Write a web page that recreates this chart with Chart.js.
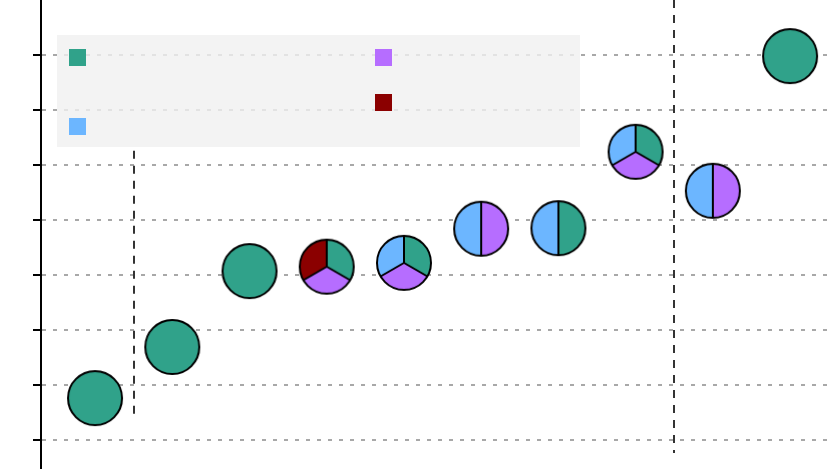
<!DOCTYPE html>
<html>
<head>
<meta charset="utf-8">
<script src="https://cdn.jsdelivr.net/npm/chart.js@4"></script>
<style>
  html, body { margin: 0; padding: 0; background: #fff; }
  #wrap { width: 831px; height: 469px; }
</style>
</head>
<body>
<div id="wrap"><canvas id="chart" width="831" height="469"></canvas></div>
<script>
// positions along x and the marker heights
const positions = [0, 1, 2, 3, 4, 5, 6, 7, 8, 9];
const values = [0.76, 1.69, 3.07, 3.15, 3.22, 3.84, 3.85, 5.24, 4.53, 6.98];

// which series each marker is made of (slices, clockwise from 12 o'clock)
const tealShare   = [1, 1, 1, 1, 1, 0, 1, 1, 0, 1];
const purpleShare = [0, 0, 0, 1, 1, 1, 0, 1, 1, 0];
const blueShare   = [0, 0, 0, 0, 1, 1, 1, 1, 1, 0];
const redShare    = [0, 0, 0, 1, 0, 0, 0, 0, 0, 0];

const seriesColors = ['#30a28a', '#b66dff', '#6cb6ff', '#8b0000'];
const yTicks = [0, 1, 2, 3, 4, 5, 6, 7];

// group separators: x position and vertical extent (in data units)
const sepX    = [0.5, 7.5];
const sepFrom = [0.45, -0.24];
const sepTo   = [5.26, 8];

// build one little pie image per point, used as the point style
function makeMarker(i) {
    const shares = [tealShare[i], purpleShare[i], blueShare[i], redShare[i]];
    const total = shares.reduce((a, b) => a + b, 0);
    const c = document.createElement('canvas');
    c.width = 62; c.height = 62;
    const g = c.getContext('2d');
    const r = 27, cx = 31, cy = 31;
    let start = -Math.PI / 2;
    const cuts = [];
    shares.forEach((s, k) => {
        if (!s) return;
        const end = start + (s / total) * Math.PI * 2;
        g.beginPath();
        g.moveTo(cx, cy);
        g.arc(cx, cy, r, start, end);
        g.closePath();
        g.fillStyle = seriesColors[k];
        g.fill();
        cuts.push(start);
        start = end;
    });
    g.strokeStyle = '#000';
    g.lineWidth = 2;
    if (cuts.length > 1) {
        cuts.forEach(a => {
            g.beginPath();
            g.moveTo(cx, cy);
            g.lineTo(cx + r * Math.cos(a), cy + r * Math.sin(a));
            g.stroke();
        });
    }
    g.beginPath();
    g.arc(cx, cy, r, 0, Math.PI * 2);
    g.stroke();
    return c;
}
const markers = positions.map((p, i) => makeMarker(i));

// legend box + separators, drawn under the markers
const extras = {
    id: 'extras',
    beforeDatasetsDraw(chart) {
        const ctx = chart.ctx;
        const xs = chart.scales.x, ys = chart.scales.y;
        ctx.save();
        // legend panel (semi-transparent so the grid shows through faintly)
        ctx.fillStyle = 'rgba(240,240,240,0.8)';
        ctx.fillRect(57, 35, 523, 112);
        const boxes = [[69, 49, 0], [375, 49, 1], [69, 118, 2], [375, 94, 3]];
        boxes.forEach(b => {
            ctx.fillStyle = seriesColors[b[2]];
            ctx.fillRect(b[0], b[1], 17, 17);
        });
        // dashed separators
        ctx.strokeStyle = '#333';
        ctx.lineWidth = 2;
        ctx.setLineDash([8, 7]);
        sepX.forEach((v, i) => {
            const px = Math.round(xs.getPixelForValue(v));
            ctx.beginPath();
            ctx.moveTo(px, ys.getPixelForValue(sepTo[i]));
            ctx.lineTo(px, ys.getPixelForValue(sepFrom[i]));
            ctx.stroke();
        });
        ctx.restore();
    }
};

new Chart(document.getElementById('chart'), {
    type: 'scatter',
    data: {
        datasets: [{
            data: positions.map((p, i) => ({ x: p, y: values[i] })),
            pointStyle: ctx => markers[ctx.dataIndex],
            pointRadius: 28,
            pointHoverRadius: 28
        }]
    },
    options: {
        responsive: false,
        animation: false,
        layout: { padding: 0, autoPadding: false },
        plugins: { legend: { display: false }, tooltip: { enabled: false } },
        scales: {
            x: {
                type: 'linear',
                display: false,
                min: -0.7,
                max: 9.53
            },
            y: {
                type: 'linear',
                min: -0.53,
                max: 8,
                afterBuildTicks: s => { s.ticks = yTicks.map(v => ({ value: v })); },
                afterFit: s => { s.width = 41; },
                ticks: { display: false },
                border: { display: true, color: '#000', width: 2, dash: [4, 7] },
                grid: {
                    color: '#a8a8a8',
                    lineWidth: 2,
                    drawTicks: true,
                    tickLength: 8,
                    tickColor: '#000',
                    tickWidth: 2,
                    tickBorderDash: []
                }
            }
        }
    },
    plugins: [extras]
});
</script>
</body>
</html>
